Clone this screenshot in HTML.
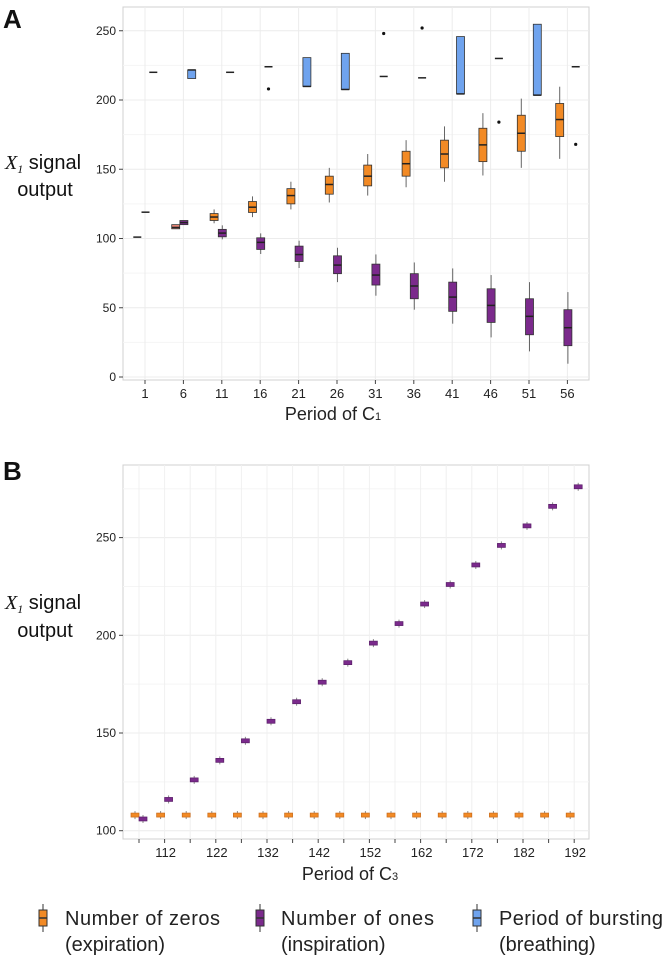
<!DOCTYPE html>
<html><head><meta charset="utf-8">
<style>
body{margin:0;background:#fff;width:665px;height:964px;overflow:hidden;font-family:"Liberation Sans",sans-serif}
svg text{font-family:"Liberation Sans",sans-serif}
</style></head>
<body>
<svg id="fig" width="665" height="964" viewBox="0 0 665 964" xmlns="http://www.w3.org/2000/svg">
<text x="3" y="28" font-size="26" font-weight="bold" fill="#111">A</text>
<text x="3" y="480" font-size="26" font-weight="bold" fill="#111">B</text>
<g>
<text x="5" y="169" font-size="20" fill="#111"><tspan font-family="Liberation Serif" font-style="italic">X</tspan><tspan font-family="Liberation Serif" font-style="italic" font-size="12" dy="4">1</tspan><tspan dy="-4"> signal</tspan></text>
<text x="45" y="196" font-size="20" fill="#111" text-anchor="middle">output</text>
</g>
<g>
<text x="5" y="609" font-size="20" fill="#111"><tspan font-family="Liberation Serif" font-style="italic">X</tspan><tspan font-family="Liberation Serif" font-style="italic" font-size="12" dy="4">1</tspan><tspan dy="-4"> signal</tspan></text>
<text x="45" y="637" font-size="20" fill="#111" text-anchor="middle">output</text>
</g>
<text x="333" y="420" font-size="18" fill="#222" text-anchor="middle">Period of C<tspan font-size="11">1</tspan></text>
<text x="350" y="880" font-size="18" fill="#222" text-anchor="middle">Period of C<tspan font-size="11">3</tspan></text>
<g id="a"></g><g id="b"></g>
<g>
<g>
<line x1="43" y1="904" x2="43" y2="932" stroke="#333"/><rect x="39" y="910" width="8" height="16" fill="#f28a25" stroke="#333"/><line x1="39" y1="918" x2="47" y2="918" stroke="#333" stroke-width="1.5"/>
<text x="65" y="925" font-size="20" fill="#222" textLength="155">Number of zeros</text><text x="65" y="951" font-size="20" fill="#222">(expiration)</text></g>
<g>
<line x1="260" y1="904" x2="260" y2="932" stroke="#333"/><rect x="256" y="910" width="8" height="16" fill="#7b2a8c" stroke="#333"/><line x1="256" y1="918" x2="264" y2="918" stroke="#333" stroke-width="1.5"/>
<text x="281" y="925" font-size="20" fill="#222" textLength="153">Number of ones</text><text x="281" y="951" font-size="20" fill="#222">(inspiration)</text></g>
<g>
<line x1="477" y1="904" x2="477" y2="932" stroke="#333"/><rect x="473" y="910" width="8" height="16" fill="#6fa3ee" stroke="#333"/><line x1="473" y1="918" x2="481" y2="918" stroke="#333" stroke-width="1.5"/>
<text x="499" y="925" font-size="20" fill="#222" textLength="164">Period of bursting</text><text x="499" y="951" font-size="20" fill="#222">(breathing)</text></g>
</g>
</svg>
<script>
// Panel A data
const catsA = [1,6,11,16,21,26,31,36,41,46,51,56];
const yTicksA = [0,50,100,150,200,250];
// [lo, q1, med, q3, hi]
const zerosA = [[101,101,101,101,101],[107,107,108,110,110],[111,113,115.5,118,121],[115.4,118.8,122.6,126.7,130.4],[121,125,131,136,141],[126,132,139,145,151],[131,138,145,153,161],[137,145,154,163,171],[141,151,161,171,181],[145.5,155.5,167.6,179.6,190.5],[151,163,176,189,201],[157.5,173.6,185.9,197.5,209.6]];
const onesA = [[119,119,119,119,119],[110,110,111.5,113,113],[99.4,101.2,103.9,106.6,109.5],[88.8,92.1,97.2,100.5,103.7],[78.7,83.4,88.4,94.5,98.4],[68.5,74.6,80.8,87.5,93.3],[58.7,66.4,73.6,81.5,88.5],[48.6,56.5,65.7,74.6,82.7],[38.5,47.4,57.7,68.5,78.4],[28.6,39.4,51.7,63.7,73.6],[18.5,30.5,43.8,56.5,68.5],[9.6,22.6,35.6,48.6,61.3]];
const burstA = [[220,220,220,220,220],[215.5,215.5,221.7,221.7,221.7],[220,220,220,220,220],[224,224,224,224,224],[209.8,209.8,209.8,230.6,230.6],[207.6,207.6,207.6,233.7,233.7],[217,217,217,217,217],[216,216,216,216,216],[204.4,204.4,204.4,245.8,245.8],[230,230,230,230,230],[203.5,203.5,203.5,254.7,254.7],[224,224,224,224,224]];
const burstOutA = [[],[],[],[208],[],[],[248],[252],[],[184],[],[168]];
// Panel B data
const catsB = [107,112,117,122,127,132,137,142,147,152,157,162,167,172,177,182,187,192];
const xTickLabelsB = [112,122,132,142,152,162,172,182,192];
const yTicksB = [100,150,200,250];
const zerosB = [108,108,108,108,108,108,108,108,108,108,108,108,108,108,108,108,108,108];
const onesB = [106,116,126,136,146,156,166,176,186,196,206,216,226,236,246,256,266,276];

const NS='http://www.w3.org/2000/svg';
function mk(parent,tag,attrs){const e=document.createElementNS(NS,tag);for(const k in attrs)e.setAttribute(k,attrs[k]);parent.appendChild(e);return e;}

function frame(g,L,T,R,B){
  const r=mk(g,'rect',{x:L,y:T,width:R-L,height:B-T,fill:'#fff',stroke:'#d0d0d0'});
  
  
}

// Panel A
(function(){
  const g=document.getElementById('a');
  const L=123,R=589,T=7,B=380;
  const yA=v=>377-v*1.385;
  const xA=i=>145+i*38.4;
  frame(g,L,T,R,B);
  yTicksA.forEach(v=>{
    mk(g,'line',{x1:L,x2:R,y1:yA(v),y2:yA(v),stroke:'#ececec'});
    if(v<250) mk(g,'line',{x1:L,x2:R,y1:yA(v+25),y2:yA(v+25),stroke:'#f5f5f5'});
    mk(g,'line',{x1:L-4,x2:L,y1:yA(v),y2:yA(v),stroke:'#444'});
    const t=mk(g,'text',{x:L-7,y:yA(v)+4,'font-size':12,fill:'#222','text-anchor':'end'});t.textContent=v;
    
    
  });
  catsA.forEach((c,i)=>{
    mk(g,'line',{x1:xA(i),x2:xA(i),y1:T,y2:B,stroke:'#ececec'});
    mk(g,'line',{x1:xA(i),x2:xA(i),y1:B,y2:B+4,stroke:'#444'});
    const t=mk(g,'text',{x:xA(i),y:B+18,'font-size':13,fill:'#222','text-anchor':'middle'});t.textContent=c;
    
    
  });
  function box(d,x,col,name){
    const bg=mk(g,'g',{});
    
    
    const w=8;
    mk(bg,'line',{x1:x,x2:x,y1:yA(d[4]),y2:yA(d[0]),stroke:'#666'});
    if(d[3]-d[1]<0.5){mk(bg,'line',{x1:x-w/2,x2:x+w/2,y1:yA(d[2]),y2:yA(d[2]),stroke:'#222','stroke-width':1.5});return;}
    mk(bg,'rect',{x:x-w/2,y:yA(d[3]),width:w,height:yA(d[1])-yA(d[3]),fill:col,stroke:'#333','stroke-width':0.8});
    mk(bg,'line',{x1:x-w/2,x2:x+w/2,y1:yA(d[2]),y2:yA(d[2]),stroke:'#222','stroke-width':1.5});
  }
  catsA.forEach((c,i)=>{
    box(zerosA[i],xA(i)-7.7,i==1?'#f08878':'#f28a25','box-zeros-'+c);
    box(onesA[i],xA(i)+0.5,'#7b2a8c','box-ones-'+c);
    box(burstA[i],xA(i)+8.3,'#6fa3ee','box-bursting-'+c);
    burstOutA[i].forEach(v=>{
      const o=mk(g,'circle',{cx:xA(i)+8.3,cy:yA(v),r:1.6,fill:'#111'});
      
      
    });
  });
})();

// Panel B
(function(){
  const g=document.getElementById('b');
  const L=123,R=589,T=465,B=839;
  const yB=v=>830.7-(v-100)*1.954;
  const xB=c=>139+(c-107)*5.12;
  frame(g,L,T,R,B);
  yTicksB.forEach(v=>{
    mk(g,'line',{x1:L,x2:R,y1:yB(v),y2:yB(v),stroke:'#ececec'});
    mk(g,'line',{x1:L,x2:R,y1:yB(v+25),y2:yB(v+25),stroke:'#f5f5f5'});
    mk(g,'line',{x1:L-4,x2:L,y1:yB(v),y2:yB(v),stroke:'#444'});
    const t=mk(g,'text',{x:L-7,y:yB(v)+4,'font-size':12,fill:'#222','text-anchor':'end'});t.textContent=v;
    
    
  });
  catsB.forEach(c=>{
    mk(g,'line',{x1:xB(c),x2:xB(c),y1:T,y2:B,stroke:'#f0f0f0'});
    mk(g,'line',{x1:xB(c),x2:xB(c),y1:B,y2:B+4,stroke:'#444'});
  });
  xTickLabelsB.forEach(c=>{
    const t=mk(g,'text',{x:xB(c)+1,y:B+18,'font-size':13,fill:'#222','text-anchor':'middle'});t.textContent=c;
    
    
  });
  function sbox(v,x,col,name){
    const bg=mk(g,'g',{});
    
    
    mk(bg,'line',{x1:x,x2:x,y1:yB(v)-4,y2:yB(v)+4,stroke:'#888'});
    mk(bg,'rect',{x:x-4,y:yB(v)-2,width:8,height:4,fill:col,stroke:col==='#f28a25'?'#c86a1a':'#5a1f68','stroke-width':0.7});
  }
  catsB.forEach((c,i)=>{
    sbox(zerosB[i],xB(c)-4,'#f28a25','box-zeros-'+c);
    sbox(onesB[i],xB(c)+4,'#7b2a8c','box-ones-'+c);
  });
})();
</script>
</body></html>
